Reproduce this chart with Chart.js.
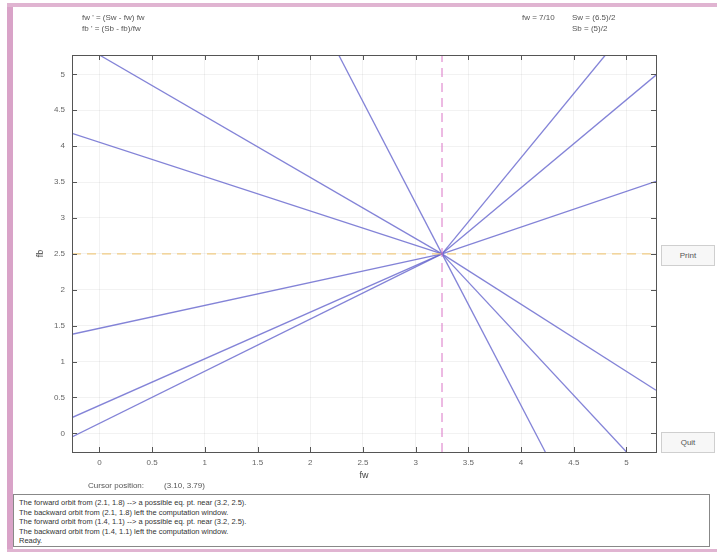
<!DOCTYPE html>
<html>
<head>
<meta charset="utf-8">
<script src="https://cdn.jsdelivr.net/npm/chart.js@4"></script>
<style>
  body { margin: 0; width: 717px; height: 552px; background: #fff; font-family: "Liberation Sans", Arial, sans-serif; overflow: hidden; }
  #frame { position: absolute; left: 0; top: 0; width: 717px; height: 552px; }
  .pinkL { position: absolute; left: 7px; top: 3px; width: 6px; height: 549px; background: #d9a3c8; }
  .pinkT { position: absolute; left: 7px; top: 3px; width: 710px; height: 4px; background: #e0b4d1; }
  .pinkB { position: absolute; left: 7px; top: 549px; width: 710px; height: 3px; background: #e0b4d1; }
  canvas { position: absolute; left: 0; top: 0; }
  .txt { position: absolute; font-size: 8px; color: #555; white-space: pre; }
  .btn { position: absolute; left: 661px; width: 52px; height: 19px; border: 1px solid #cfcfcf; background: #f7f7f7; font-size: 8px; color: #555; text-align: center; line-height: 19px; }
  #msg { position: absolute; left: 13px; top: 494px; width: 697px; height: 53px; border: 1px solid #888; box-sizing: border-box; padding: 3px 5px; font-size: 7.5px; line-height: 9.6px; color: #333; background: #fff; }
</style>
</head>
<body>
<div id="frame">
  <div class="pinkL"></div><div class="pinkT"></div><div class="pinkB"></div>
</div>
<canvas id="phasePlane" width="717" height="552"></canvas>

<div class="txt" style="left:82px; top:13px;">fw ' = (Sw - fw) fw</div>
<div class="txt" style="left:82px; top:24px;">fb ' = (Sb - fb)/fw</div>
<div class="txt" style="left:522px; top:13px;">fw = 7/10</div>
<div class="txt" style="left:572px; top:13px;">Sw = (6.5)/2</div>
<div class="txt" style="left:572px; top:24px;">Sb = (5)/2</div>
<div class="txt" style="left:88px; top:481px;">Cursor position:</div>
<div class="txt" style="left:164px; top:481px;">(3.10, 3.79)</div>
<div class="btn" style="top:245px;">Print</div>
<div class="btn" style="top:432px;">Quit</div>
<div id="msg"></div>

<script>
const xRange = [-0.26, 5.28];
const yRange = [-0.26, 5.27];
const tickStep = 0.5;

// equilibrium from the nullclines fw = Sw, fb = Sb
const Sw = 6.5 / 2;
const Sb = 5 / 2;

// orbit starting points (fw, fb), each runs into the equilibrium
const orbitFw = [0.0, -0.26, -0.26, -0.26, -0.26, 2.27, 4.8, 5.28, 5.28, 5.28, 5.0, 4.23];
const orbitFb = [5.27, 4.18, 1.38, 0.22, -0.05, 5.27, 5.27, 4.99, 3.51, 0.6, -0.26, -0.26];

const messages = [
    'The forward orbit from (2.1, 1.8) --> a possible eq. pt. near (3.2, 2.5).',
    'The backward orbit from (2.1, 1.8) left the computation window.',
    'The forward orbit from (1.4, 1.1) --> a possible eq. pt. near (3.2, 2.5).',
    'The backward orbit from (1.4, 1.1) left the computation window.',
    'Ready.',
];
document.getElementById('msg').innerHTML = messages.join('<br>');

const datasets = [];
datasets.push({
    data: [{ x: xRange[0], y: Sb }, { x: xRange[1], y: Sb }],
    borderColor: 'rgba(240, 195, 110, 0.85)',
    borderWidth: 1.2,
    borderDash: [9, 6],
});
datasets.push({
    data: [{ x: Sw, y: yRange[0] }, { x: Sw, y: yRange[1] }],
    borderColor: 'rgba(220, 120, 200, 0.85)',
    borderWidth: 1.2,
    borderDash: [9, 6],
});
for (let i = 0; i < orbitFw.length; i++) {
    datasets.push({
        data: [{ x: orbitFw[i], y: orbitFb[i] }, { x: Sw, y: Sb }],
        borderColor: 'rgba(100, 100, 205, 0.8)',
        borderWidth: 1.3,
    });
}

// box round the plot and inward tick marks
const boxTicks = {
    id: 'boxTicks',
    afterDraw(chart) {
        const { ctx, chartArea: a, scales } = chart;
        ctx.save();
        ctx.strokeStyle = '#555';
        ctx.lineWidth = 1;
        ctx.strokeRect(a.left + 0.5, a.top + 0.5, a.right - a.left, a.bottom - a.top);
        ctx.beginPath();
        scales.x.ticks.forEach(t => {
            const px = Math.round(scales.x.getPixelForValue(t.value)) + 0.5;
            ctx.moveTo(px, a.bottom); ctx.lineTo(px, a.bottom - 5);
            ctx.moveTo(px, a.top); ctx.lineTo(px, a.top + 5);
        });
        scales.y.ticks.forEach(t => {
            const py = Math.round(scales.y.getPixelForValue(t.value)) + 0.5;
            ctx.moveTo(a.left, py); ctx.lineTo(a.left + 5, py);
            ctx.moveTo(a.right, py); ctx.lineTo(a.right - 5, py);
        });
        ctx.stroke();
        ctx.restore();
    }
};

const tickFont = { family: 'Liberation Sans', size: 8 };
const fmt = v => String(Math.round(v * 10) / 10);

new Chart(document.getElementById('phasePlane'), {
    type: 'line',
    data: { datasets },
    options: {
        responsive: false,
        animation: false,
        devicePixelRatio: 1,
        layout: { padding: { left: 35, top: 55, right: 61, bottom: 70 } },
        elements: { point: { radius: 0 }, line: { tension: 0 } },
        plugins: { legend: { display: false }, tooltip: { enabled: false } },
        scales: {
            x: {
                type: 'linear',
                min: xRange[0],
                max: xRange[1],
                afterFit(scale) { scale.height = 30; },
                ticks: { stepSize: tickStep, includeBounds: false, color: '#666', font: tickFont, padding: 6, maxRotation: 0, callback: fmt },
                grid: { color: 'rgba(0,0,0,0.05)', drawTicks: false },
                border: { display: false },
                title: { display: true, text: 'fw', color: '#444', font: { family: 'Liberation Sans', size: 9 }, padding: 1 },
            },
            y: {
                type: 'linear',
                min: yRange[0],
                max: yRange[1],
                afterFit(scale) { scale.width = 37; },
                ticks: { stepSize: tickStep, includeBounds: false, color: '#666', font: tickFont, padding: 7, callback: fmt },
                grid: { color: 'rgba(0,0,0,0.05)', drawTicks: false },
                border: { display: false },
                title: { display: true, text: 'fb', color: '#444', font: { family: 'Liberation Sans', size: 9 }, padding: 0 },
            },
        },
    },
    plugins: [boxTicks],
});
</script>
</body>
</html>
